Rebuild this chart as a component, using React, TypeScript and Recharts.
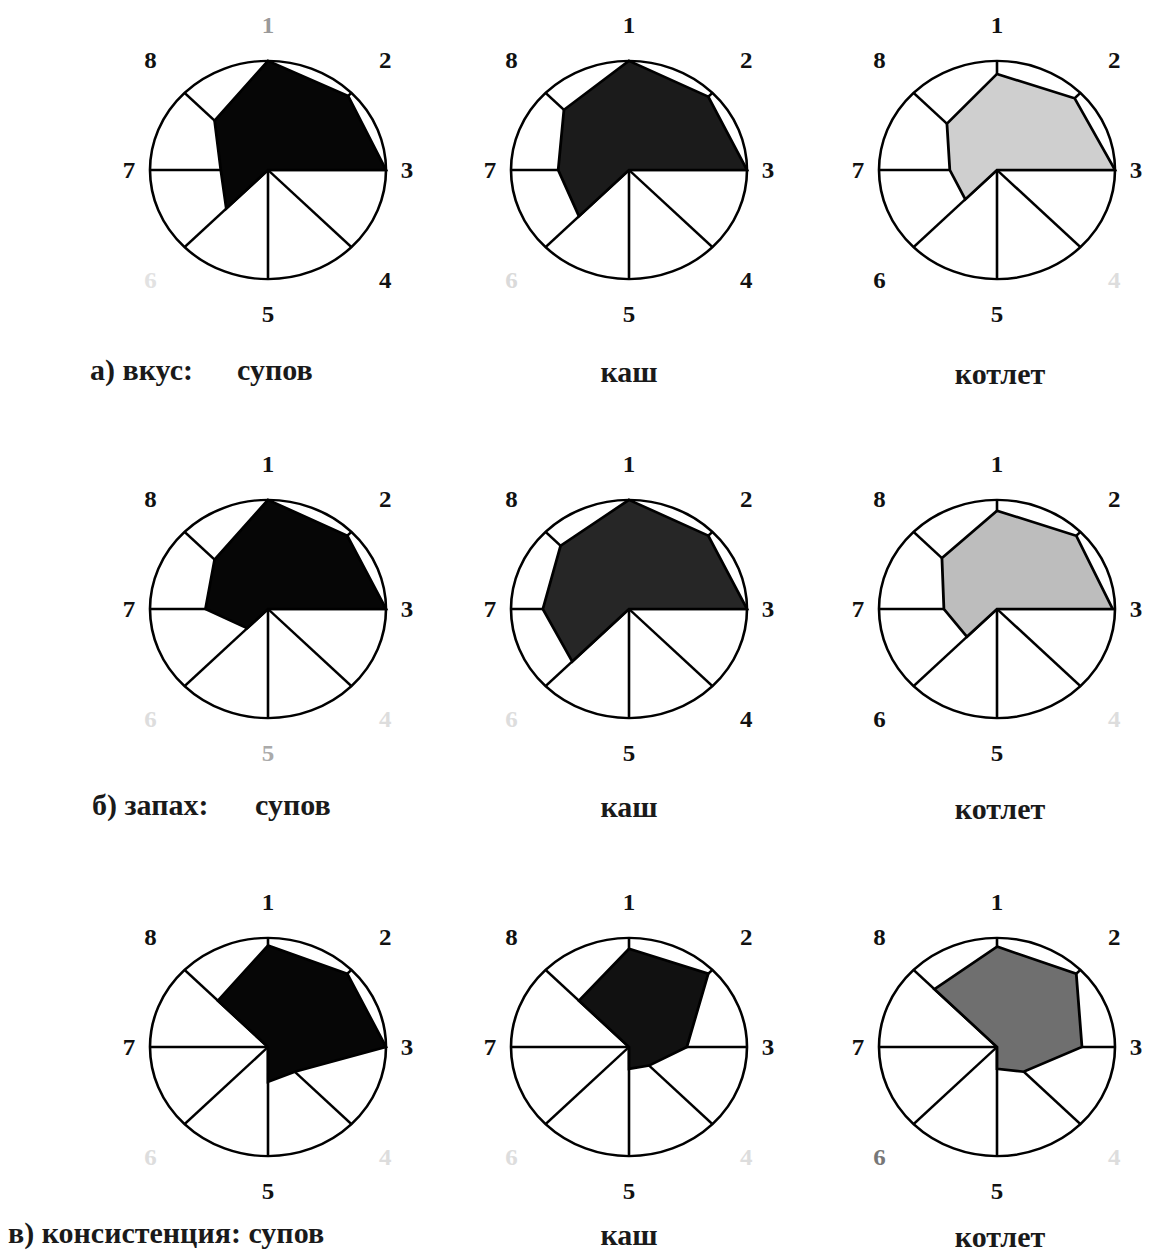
import React from 'react';
import { RadarChart, PolarGrid, PolarAngleAxis, PolarRadiusAxis, Radar } from 'recharts';

// axis numbers (1 at the top, clockwise)
const axes = ['1', '2', '3', '4', '5', '6', '7', '8'];

// а) вкус
const tasteSoups = [1.0, 0.96, 1.0, 0, 0, 0.5, 0.4, 0.64];
const tastePorridge = [1.0, 0.95, 1.0, 0, 0, 0.6, 0.6, 0.78];
const tasteCutlets = [0.88, 0.93, 1.0, 0, 0, 0.38, 0.4, 0.6];

// б) запах
const smellSoups = [1.0, 0.95, 1.0, 0, 0, 0.25, 0.53, 0.64];
const smellPorridge = [1.0, 0.95, 1.0, 0, 0, 0.68, 0.73, 0.82];
const smellCutlets = [0.9, 0.95, 0.98, 0, 0, 0.36, 0.45, 0.66];

// в) консистенция
const textureSoups = [0.93, 0.95, 1.0, 0.32, 0.32, 0, 0, 0.6];
const texturePorridge = [0.9, 0.95, 0.49, 0.24, 0.2, 0, 0, 0.6];
const textureCutlets = [0.92, 0.95, 0.72, 0.32, 0.2, 0, 0, 0.75];

const rowTitles = ['а) вкус:', 'б) запах:', 'в) консистенция:'];
const colTitles = ['супов', 'каш', 'котлет'];

const panels = [
  [tasteSoups, tastePorridge, tasteCutlets],
  [smellSoups, smellPorridge, smellCutlets],
  [textureSoups, texturePorridge, textureCutlets],
];

const fills = [
  ['#060606', '#1b1b1b', '#cfcfcf'],
  ['#060606', '#262626', '#bdbdbd'],
  ['#060606', '#111111', '#6f6f6f'],
];

// faint (badly printed) axis numbers per panel
const faint: Record<string, string>[][] = [
  [{ '1': '#9a9a9a', '6': '#e2e2e2' }, { '6': '#dadada' }, { '4': '#dddddd' }],
  [{ '4': '#dddddd', '5': '#aaaaaa', '6': '#dddddd' }, { '6': '#dddddd' }, { '4': '#dddddd' }],
  [{ '4': '#dddddd', '6': '#dddddd' }, { '4': '#dddddd', '6': '#dddddd' }, { '4': '#dddddd', '6': '#777777' }],
];

const colX = [268, 629, 997];
const rowY = [170, 609, 1047];
const SIZE = 360;
const R = 118;
const SQUASH = 0.925;

// title rows: y of text centre, left of row title, left of "супов"
const titleY = [370, 805, 1233];
const titleLeft = [90, 92, 8];
const soupLeft = [237, 255, 0];

const AxisNumber = (props: any) => {
  const { x, y, cx, cy, payload, colors } = props;
  const dx = x - cx;
  const dy = y - cy;
  const len = Math.sqrt(dx * dx + dy * dy) || 1;
  const ux = dx / len;
  const uy = dy / len;
  const diag = Math.abs(ux) > 0.3 && Math.abs(uy) > 0.3;
  const lx = cx + ux * (diag ? 166 : 139);
  const ly = cy + uy * (diag ? 168 : 156);
  return (
    <text
      x={lx}
      y={ly}
      textAnchor="middle"
      dominantBaseline="central"
      fontFamily="'Liberation Serif', serif"
      fontWeight="bold"
      fontSize={25}
      fill={colors[payload.value] ?? '#111'}
    >
      {payload.value}
    </text>
  );
};

const Panel = ({ values, fill, colors }: { values: number[]; fill: string; colors: Record<string, string> }) => {
  const data = axes.map((a, i) => ({ axis: a, value: values[i] }));
  return (
    <div style={{ transform: `scaleY(${SQUASH})`, transformOrigin: '50% 50%' }}>
      <RadarChart width={SIZE} height={SIZE} data={data} cx={SIZE / 2} cy={SIZE / 2} outerRadius={R}>
        <PolarGrid gridType="circle" polarRadius={[R]} stroke="#000" strokeWidth={2.6} strokeOpacity={1} />
        <PolarRadiusAxis domain={[0, 1]} tick={false} axisLine={false} />
        <PolarAngleAxis
          dataKey="axis"
          tickLine={false}
          axisLine={false}
          tick={(p: any) => <AxisNumber {...p} colors={colors} />}
        />
        <Radar
          dataKey="value"
          stroke="#000"
          strokeWidth={2.8}
          fill={fill}
          fillOpacity={1}
          isAnimationActive={false}
        />
      </RadarChart>
    </div>
  );
};

const labelStyle: React.CSSProperties = {
  position: 'absolute',
  fontFamily: "'Liberation Serif', serif",
  fontWeight: 'bold',
  fontSize: 30,
  color: '#1a1a1a',
  whiteSpace: 'nowrap',
  lineHeight: '34px',
  height: 34,
};

export default function App() {
  return (
    <div style={{ position: 'absolute', left: 0, top: 0, width: 1153, height: 1253, background: '#fff', overflow: 'hidden' }}>
      {panels.map((row, r) =>
        row.map((vals, c) => (
          <div
            key={`${r}-${c}`}
            style={{ position: 'absolute', left: colX[c] - SIZE / 2, top: rowY[r] - SIZE / 2, width: SIZE, height: SIZE }}
          >
            <Panel values={vals} fill={fills[r][c]} colors={faint[r][c]} />
          </div>
        ))
      )}
      {rowTitles.map((t, r) => (
        <React.Fragment key={t}>
          {r === 2 ? (
            <div style={{ ...labelStyle, left: titleLeft[r], top: titleY[r] - 17 }}>
              {t} {colTitles[0]}
            </div>
          ) : (
            <>
              <div style={{ ...labelStyle, left: titleLeft[r], top: titleY[r] - 17 }}>{t}</div>
              <div style={{ ...labelStyle, left: soupLeft[r], top: titleY[r] - 17 }}>{colTitles[0]}</div>
            </>
          )}
          <div style={{ ...labelStyle, left: colX[1] - 100, width: 200, textAlign: 'center', top: titleY[r] - 15 }}>
            {colTitles[1]}
          </div>
          <div style={{ ...labelStyle, left: 1000 - 100, width: 200, textAlign: 'center', top: titleY[r] - 13 }}>
            {colTitles[2]}
          </div>
        </React.Fragment>
      ))}
    </div>
  );
}
